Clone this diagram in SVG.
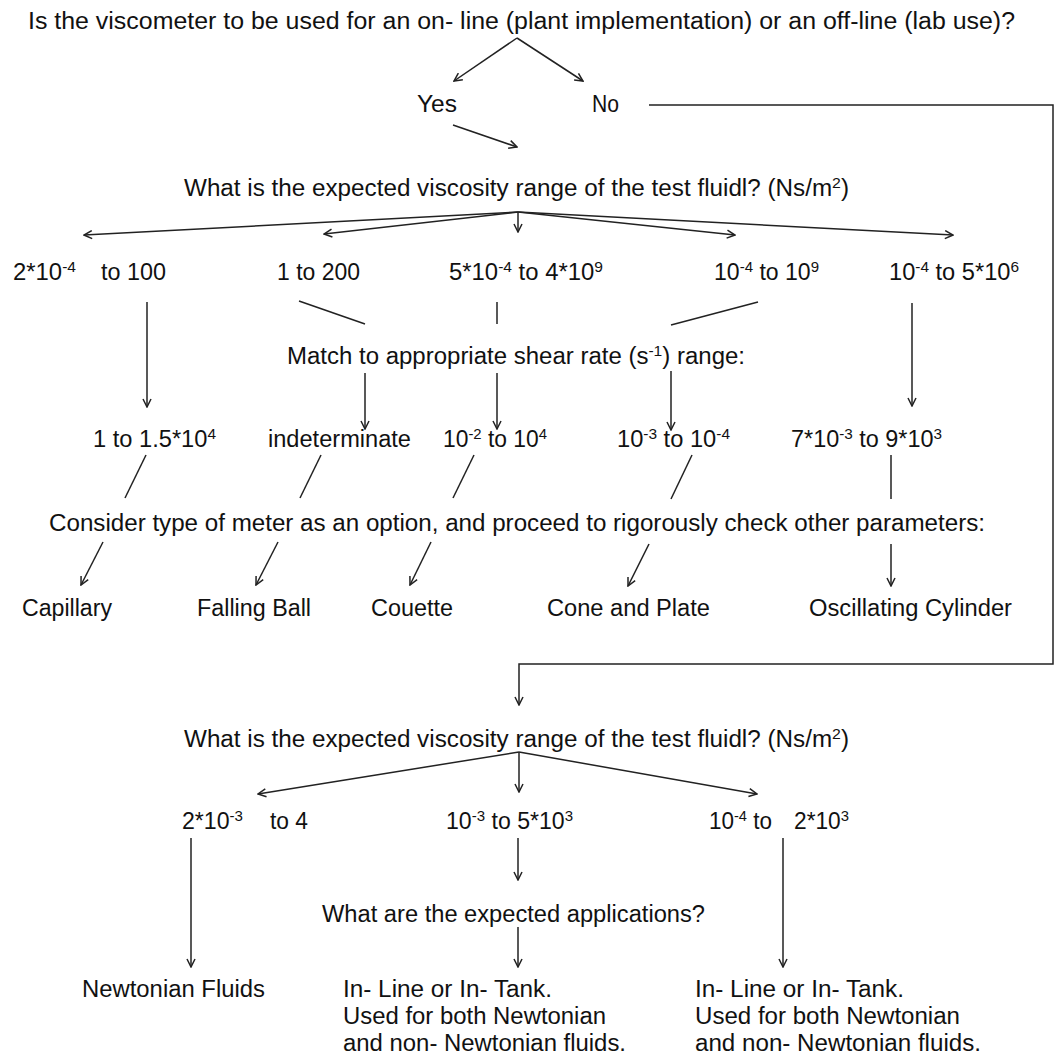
<svg xmlns="http://www.w3.org/2000/svg" width="1054" height="1055" viewBox="0 0 1054 1055">
<style>
text{font-family:"Liberation Sans",Arial,sans-serif;font-size:23px;fill:#111;}
.sup{font-size:15px;}
.c line,.c path{stroke:#222;stroke-width:1.5;fill:none;}
.a{marker-end:url(#ah);}
</style>
<defs>
<marker id="ah" markerUnits="userSpaceOnUse" viewBox="-9 -5 10 10" refX="0" refY="0" markerWidth="10" markerHeight="10" orient="auto">
<path d="M-8,-4 L0,0 L-8,4" fill="none" stroke="#222" stroke-width="1.5"/>
</marker>
</defs>
<rect width="1054" height="1055" fill="#fff"/>
<g class="c" id="connectors">
<line class="a" x1="517" y1="38" x2="454" y2="81"/>
<line class="a" x1="517" y1="38" x2="583" y2="81"/>
<line class="a" x1="453" y1="125" x2="517" y2="147"/>
<path class="a" d="M649,105 H1053 V664 H519 V705"/>
<line class="a" x1="518" y1="212" x2="84" y2="235"/>
<line class="a" x1="518" y1="212" x2="324" y2="234"/>
<line class="a" x1="518" y1="212" x2="518" y2="232"/>
<line class="a" x1="518" y1="212" x2="735" y2="235"/>
<line class="a" x1="518" y1="212" x2="953" y2="235"/>
<line class="a" x1="147" y1="302" x2="147" y2="407"/>
<line x1="299" y1="301" x2="365" y2="324"/>
<line x1="497" y1="302" x2="497" y2="324"/>
<line x1="758" y1="302" x2="671" y2="325"/>
<line class="a" x1="912" y1="303" x2="912" y2="406"/>
<line class="a" x1="365" y1="373" x2="365" y2="429"/>
<line class="a" x1="497" y1="373" x2="497" y2="429"/>
<line class="a" x1="671" y1="371" x2="671" y2="430"/>
<line x1="146" y1="455" x2="125" y2="498"/>
<line x1="321" y1="455" x2="300" y2="498"/>
<line x1="474" y1="455" x2="453" y2="498"/>
<line x1="692" y1="455" x2="671" y2="499"/>
<line x1="891" y1="455" x2="891" y2="499"/>
<line class="a" x1="103" y1="542" x2="81" y2="585"/>
<line class="a" x1="278" y1="542" x2="256" y2="585"/>
<line class="a" x1="431" y1="542" x2="410" y2="585"/>
<line class="a" x1="649" y1="544" x2="628" y2="586"/>
<line class="a" x1="891" y1="544" x2="891" y2="586"/>
<line class="a" x1="519" y1="752" x2="258" y2="794"/>
<line class="a" x1="519" y1="752" x2="519" y2="792"/>
<line class="a" x1="519" y1="752" x2="757" y2="794"/>
<line class="a" x1="191" y1="838" x2="191" y2="967"/>
<line class="a" x1="518" y1="838" x2="518" y2="880"/>
<line class="a" x1="518" y1="927" x2="518" y2="967"/>
<line class="a" x1="783" y1="838" x2="783" y2="967"/>
</g>
<g id="q1"><text x="28" y="29" textLength="987" lengthAdjust="spacingAndGlyphs">Is the viscometer to be used for an on- line (plant implementation) or an off-line (lab use)?</text></g>
<g id="yes"><text x="417" y="112" textLength="40" lengthAdjust="spacingAndGlyphs">Yes</text></g>
<g id="no"><text x="592" y="112" textLength="27" lengthAdjust="spacingAndGlyphs">No</text></g>
<g id="q2"><text x="184" y="196" textLength="665" lengthAdjust="spacingAndGlyphs">What is the expected viscosity range of the test fluidl? (Ns/m<tspan class="sup" dy="-8">2</tspan><tspan dy="8">)</tspan></text></g>
<g id="r1"><text x="13" y="280" textLength="63" lengthAdjust="spacingAndGlyphs">2*10<tspan class="sup" dy="-8">-4</tspan></text><text x="101" y="280" textLength="65" lengthAdjust="spacingAndGlyphs">to 100</text></g>
<g id="r2"><text x="277" y="280" textLength="83" lengthAdjust="spacingAndGlyphs">1 to 200</text></g>
<g id="r3"><text x="449" y="280" textLength="154" lengthAdjust="spacingAndGlyphs">5*10<tspan class="sup" dy="-8">-4</tspan><tspan dy="8"> to 4*10</tspan><tspan class="sup" dy="-8">9</tspan></text></g>
<g id="r4"><text x="714" y="280" textLength="105" lengthAdjust="spacingAndGlyphs">10<tspan class="sup" dy="-8">-4</tspan><tspan dy="8"> to 10</tspan><tspan class="sup" dy="-8">9</tspan></text></g>
<g id="r5"><text x="889" y="280" textLength="130" lengthAdjust="spacingAndGlyphs">10<tspan class="sup" dy="-8">-4</tspan><tspan dy="8"> to 5*10</tspan><tspan class="sup" dy="-8">6</tspan></text></g>
<g id="match"><text x="287" y="364" textLength="458" lengthAdjust="spacingAndGlyphs">Match to appropriate shear rate (s<tspan class="sup" dy="-8">-1</tspan><tspan dy="8">) range:</tspan></text></g>
<g id="s1"><text x="93" y="447" textLength="123" lengthAdjust="spacingAndGlyphs">1 to 1.5*10<tspan class="sup" dy="-8">4</tspan></text></g>
<g id="s2"><text x="268" y="447" textLength="143" lengthAdjust="spacingAndGlyphs">indeterminate</text></g>
<g id="s3"><text x="443" y="447" textLength="104" lengthAdjust="spacingAndGlyphs">10<tspan class="sup" dy="-8">-2</tspan><tspan dy="8"> to 10</tspan><tspan class="sup" dy="-8">4</tspan></text></g>
<g id="s4"><text x="617" y="447" textLength="113" lengthAdjust="spacingAndGlyphs">10<tspan class="sup" dy="-8">-3</tspan><tspan dy="8"> to 10</tspan><tspan class="sup" dy="-8">-4</tspan></text></g>
<g id="s5"><text x="791" y="447" textLength="151" lengthAdjust="spacingAndGlyphs">7*10<tspan class="sup" dy="-8">-3</tspan><tspan dy="8"> to 9*10</tspan><tspan class="sup" dy="-8">3</tspan></text></g>
<g id="consider"><text x="49" y="531" textLength="936" lengthAdjust="spacingAndGlyphs">Consider type of meter as an option, and proceed to rigorously check other parameters:</text></g>
<g id="m1"><text x="22" y="616" textLength="90" lengthAdjust="spacingAndGlyphs">Capillary</text></g>
<g id="m2"><text x="197" y="616" textLength="114" lengthAdjust="spacingAndGlyphs">Falling Ball</text></g>
<g id="m3"><text x="371" y="616" textLength="82" lengthAdjust="spacingAndGlyphs">Couette</text></g>
<g id="m4"><text x="547" y="616" textLength="163" lengthAdjust="spacingAndGlyphs">Cone and Plate</text></g>
<g id="m5"><text x="809" y="616" textLength="203" lengthAdjust="spacingAndGlyphs">Oscillating Cylinder</text></g>
<g id="q3"><text x="184" y="747" textLength="665" lengthAdjust="spacingAndGlyphs">What is the expected viscosity range of the test fluidl? (Ns/m<tspan class="sup" dy="-8">2</tspan><tspan dy="8">)</tspan></text></g>
<g id="l1"><text x="182" y="829" textLength="61" lengthAdjust="spacingAndGlyphs">2*10<tspan class="sup" dy="-8">-3</tspan></text><text x="270" y="829" textLength="38" lengthAdjust="spacingAndGlyphs">to 4</text></g>
<g id="l2"><text x="446" y="829" textLength="127" lengthAdjust="spacingAndGlyphs">10<tspan class="sup" dy="-8">-3</tspan><tspan dy="8"> to 5*10</tspan><tspan class="sup" dy="-8">3</tspan></text></g>
<g id="l3"><text x="709" y="829" textLength="63" lengthAdjust="spacingAndGlyphs">10<tspan class="sup" dy="-8">-4</tspan><tspan dy="8"> to</tspan></text><text x="794" y="829" textLength="55" lengthAdjust="spacingAndGlyphs">2*10<tspan class="sup" dy="-8">3</tspan></text></g>
<g id="apps"><text x="322" y="922" textLength="383" lengthAdjust="spacingAndGlyphs">What are the expected applications?</text></g>
<g id="newt"><text x="82" y="997" textLength="183" lengthAdjust="spacingAndGlyphs">Newtonian Fluids</text></g>
<g id="inline1"><text x="343" y="997" textLength="209" lengthAdjust="spacingAndGlyphs">In- Line or In- Tank.</text><text x="343" y="1024" textLength="263" lengthAdjust="spacingAndGlyphs">Used for both Newtonian</text><text x="343" y="1051" textLength="283" lengthAdjust="spacingAndGlyphs">and non- Newtonian fluids.</text></g>
<g id="inline2"><text x="695" y="997" textLength="209" lengthAdjust="spacingAndGlyphs">In- Line or In- Tank.</text><text x="695" y="1024" textLength="265" lengthAdjust="spacingAndGlyphs">Used for both Newtonian</text><text x="695" y="1051" textLength="286" lengthAdjust="spacingAndGlyphs">and non- Newtonian fluids.</text></g>
</svg>
